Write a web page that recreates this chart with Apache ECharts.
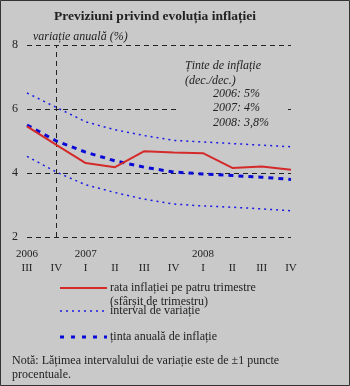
<!DOCTYPE html>
<html>
<head>
<meta charset="utf-8">
<script src="https://cdn.jsdelivr.net/npm/echarts@6/dist/echarts.min.js"></script>
<style>
  html, body { margin: 0; padding: 0; background: #c9c9c9; }
  #chart { width: 350px; height: 386px; }
</style>
</head>
<body>
<div id="chart"></div>
<script>
// Quarters from 2006 Q3 to 2008 Q4
const quarters = ['III', 'IV', 'I', 'II', 'III', 'IV', 'I', 'II', 'III', 'IV'];
const years = ['2006', '', '2007', '', '', '', '2008', '', '', ''];

// Annual inflation rate, end of quarter (%)
const inflationRate = [5.46, 4.88, 4.31, 4.18, 4.68, 4.64, 4.62, 4.16, 4.20, 4.10];
// Variation band (upper / lower bounds)
const bandUpper = [6.50, 6.05, 5.60, 5.35, 5.17, 5.02, 4.97, 4.92, 4.87, 4.82];
const bandLower = [4.52, 4.03, 3.63, 3.39, 3.18, 3.03, 2.97, 2.93, 2.88, 2.82];
// Annual inflation target path
const targetPath = [5.50, 5.00, 4.65, 4.38, 4.18, 4.03, 3.97, 3.92, 3.87, 3.80];

const yTicks = { min: 2, max: 8, interval: 2 };

const SERIF = '"Liberation Serif", "DejaVu Serif", serif';
const BG = '#c9c9c9';
const INK = '#222';
const RED = '#d42a2a';
const BLUE = '#1a1ae6';
const DARK_BLUE = '#0a0ad6';

const chart = echarts.init(document.getElementById('chart'), null, { renderer: 'canvas' });

chart.setOption({
  backgroundColor: BG,
  animation: false,
  title: {
    text: 'Previziuni privind evoluția inflației',
    left: 49,
    top: 5,
    textStyle: { fontFamily: SERIF, fontWeight: 'bold', fontSize: 13.5, color: INK }
  },
  grid: { left: 27, right: 59, top: 45, bottom: 149, containLabel: false },
  xAxis: {
    type: 'category',
    data: quarters,
    boundaryGap: false,
    axisLine: { show: false },
    axisTick: { show: false },
    splitLine: { show: false },
    axisLabel: {
      interval: 0,
      margin: 10,
      formatter: (v, i) => '{y|' + (years[i] || ' ') + '}\n{q|' + v + '}',
      rich: {
        y: { fontFamily: SERIF, fontSize: 11, color: INK, lineHeight: 14, align: 'center' },
        q: { fontFamily: SERIF, fontSize: 11, color: INK, lineHeight: 14, align: 'center' }
      }
    }
  },
  yAxis: {
    type: 'value',
    min: yTicks.min,
    max: yTicks.max,
    interval: yTicks.interval,
    axisLine: { show: false },
    axisTick: { show: false },
    axisLabel: { fontFamily: SERIF, fontSize: 12, color: INK, margin: 9 },
    splitLine: { lineStyle: { color: INK, type: [5, 4], width: 1 } }
  },
  series: [
    {
      name: 'interval sus',
      type: 'line',
      data: bandUpper,
      symbol: 'none',
      lineStyle: { color: BLUE, width: 1.5, type: [2, 4] },
      z: 3
    },
    {
      name: 'interval jos',
      type: 'line',
      data: bandLower,
      symbol: 'none',
      lineStyle: { color: BLUE, width: 1.5, type: [2, 4] },
      z: 3
    },
    {
      name: 'ținta anuală de inflație',
      type: 'line',
      data: targetPath,
      symbol: 'none',
      lineStyle: { color: DARK_BLUE, width: 3, type: [5, 5] },
      z: 4,
      markLine: {
        silent: true,
        symbol: 'none',
        label: { show: false },
        lineStyle: { color: INK, type: [5, 4], width: 1 },
        data: [{ xAxis: 1 }]
      }
    },
    {
      name: 'rata inflației',
      type: 'line',
      data: inflationRate,
      symbol: 'none',
      lineStyle: { color: RED, width: 2 },
      z: 5
    }
  ],
  graphic: [
    // y-axis caption
    { type: 'text', left: 33, top: 31, z: 10,
      style: { text: 'variație anuală (%)', font: 'italic 12px ' + SERIF, fill: INK } },
    // inflation targets box
    { type: 'rect', shape: { x: 180, y: 58, width: 104, height: 70 }, z: 1,
      style: { fill: BG } },
    { type: 'text', left: 185, top: 59, z: 10,
      style: { text: 'Ținte de inflație\n(dec./dec.)', font: 'italic 12px ' + SERIF, fill: INK, lineHeight: 14.5 } },
    { type: 'text', left: 213, top: 87, z: 10,
      style: { text: '2006: 5%\n2007: 4%\n2008: 3,8%', font: 'italic 12px ' + SERIF, fill: INK, lineHeight: 14.2 } },
    // legend samples
    { type: 'line', shape: { x1: 60, y1: 288, x2: 107, y2: 288 }, z: 10,
      style: { stroke: RED, lineWidth: 2 } },
    { type: 'line', shape: { x1: 60, y1: 311, x2: 107, y2: 311 }, z: 10,
      style: { stroke: BLUE, lineWidth: 1.5, lineDash: [2, 4] } },
    { type: 'line', shape: { x1: 60, y1: 337, x2: 107, y2: 337 }, z: 10,
      style: { stroke: DARK_BLUE, lineWidth: 3, lineDash: [4, 7] } },
    // legend labels
    { type: 'text', left: 110, top: 282, z: 10,
      style: { text: 'rata inflației pe patru trimestre', font: '12px ' + SERIF, fill: INK } },
    { type: 'text', left: 110, top: 296, z: 10,
      style: { text: '(sfârșit de trimestru)', font: '12px ' + SERIF, fill: INK } },
    { type: 'text', left: 110, top: 305, z: 11,
      style: { text: 'interval de variație', font: '12px ' + SERIF, fill: INK } },
    { type: 'text', left: 110, top: 331, z: 10,
      style: { text: 'ținta anuală de inflație', font: '12px ' + SERIF, fill: INK } },
    // footnote
    { type: 'text', left: 12, top: 354, z: 10,
      style: { text: 'Notă: Lățimea intervalului de variație este de ±1 puncte\nprocentuale.', font: '12px ' + SERIF, fill: INK, lineHeight: 14 } },
    // frame
    { type: 'rect', shape: { x: 0.5, y: 0.5, width: 349, height: 385 }, z: 20,
      style: { fill: 'none', stroke: '#333', lineWidth: 1 } }
  ]
});
</script>
</body>
</html>
